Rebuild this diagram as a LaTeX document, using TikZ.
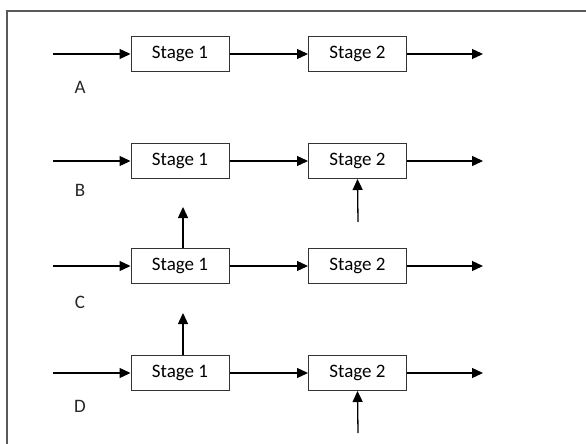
\documentclass[tikz,border=0pt]{standalone}
\usepackage{fontspec}
\setmainfont{Carlito}
\usetikzlibrary{arrows.meta}

\begin{document}
\begin{tikzpicture}[x=1pt,y=-1pt,
        stagebox/.style={draw=black!80,line width=1pt,minimum width=98pt,minimum height=35pt,inner sep=0pt,font=\fontsize{19}{22}\selectfont},
        caselbl/.style={font=\fontsize{19}{22}\selectfont,text=black!85},
        flow/.style={line width=1.3pt,-{Triangle[length=11pt,width=10pt]}}]
            \useasboundingbox (0,0) rectangle (586,444);
            \draw[black!65,line width=1.3pt] (7,444) -- (7,11) -- (586,11);
            % case A
            \node (a1) at (180,54) [stagebox] {Stage 1};
            \node (a2) at (357.5,54) [stagebox] {Stage 2};
            \node (la) at (80,87) [caselbl] {A};
            \coordinate (ain) at (53,54);
            \coordinate (aout) at (483,54);
            \draw[flow] (ain) -- (a1);
            \draw[flow] (a1) -- (a2);
            \draw[flow] (a2) -- (aout);
            % case B
            \node (b1) at (180,161) [stagebox] {Stage 1};
            \node (b2) at (357.5,161) [stagebox] {Stage 2};
            \node (lb) at (80,190) [caselbl] {B};
            \coordinate (bin) at (53,161);
            \coordinate (bout) at (483,161);
            \coordinate (bup) at (358,222);
            \draw[flow] (bin) -- (b1);
            \draw[flow] (b1) -- (b2);
            \draw[flow] (b2) -- (bout);
            \draw[flow] (bup) -- (b2.south);
            % case C
            \node (c1) at (180,266) [stagebox] {Stage 1};
            \node (c2) at (357.5,266) [stagebox] {Stage 2};
            \node (lc) at (80,302) [caselbl] {C};
            \coordinate (cin) at (53,266);
            \coordinate (cout) at (483,266);
            \coordinate (cup) at (183,207);
            \draw[flow] (cin) -- (c1);
            \draw[flow] (c1) -- (c2);
            \draw[flow] (c2) -- (cout);
            \draw[flow] (c1.north -| cup) -- (cup);
            % case D
            \node (d1) at (180,373) [stagebox] {Stage 1};
            \node (d2) at (357.5,373) [stagebox] {Stage 2};
            \node (ld) at (80,406) [caselbl] {D};
            \coordinate (din) at (53,373);
            \coordinate (dout) at (483,373);
            \coordinate (dup) at (183,313);
            \coordinate (dbot) at (358,433);
            \draw[flow] (din) -- (d1);
            \draw[flow] (d1) -- (d2);
            \draw[flow] (d2) -- (dout);
            \draw[flow] (d1.north -| dup) -- (dup);
            \draw[flow] (dbot) -- (d2.south);
        \end{tikzpicture}
\end{document}
